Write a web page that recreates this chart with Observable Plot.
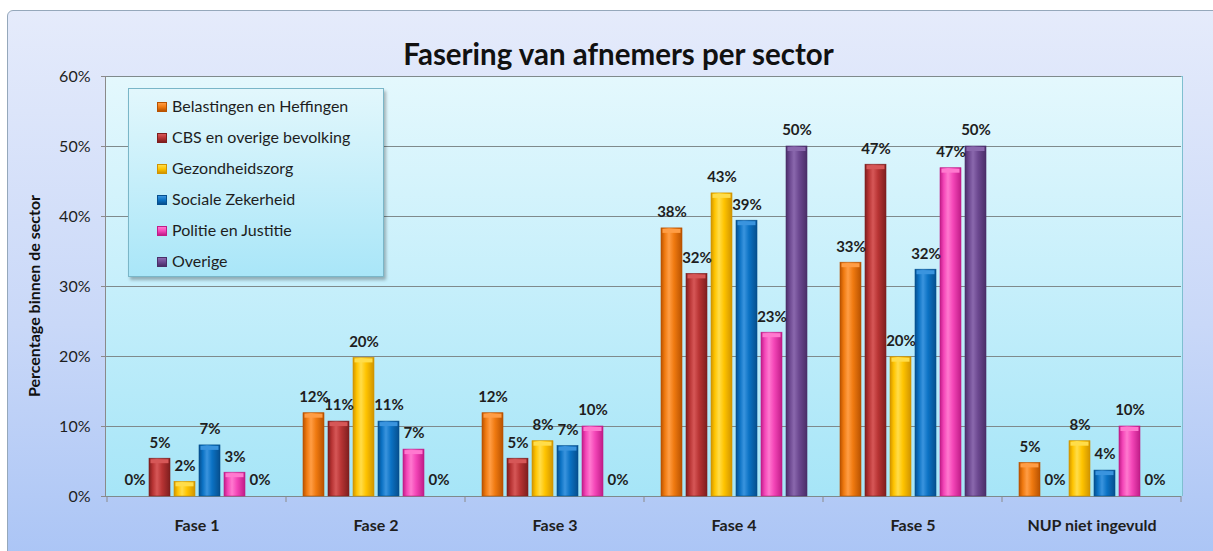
<!DOCTYPE html>
<html>
<head>
<meta charset="utf-8">
<script src="https://cdn.jsdelivr.net/npm/d3@7"></script>
<script src="https://cdn.jsdelivr.net/npm/@observablehq/plot@0.6"></script>
<style>
  html, body { margin: 0; padding: 0; background: #fff; overflow: hidden; }
  #wrap { position: relative; width: 1213px; height: 551px; overflow: hidden; font-family: Lato, "Open Sans", sans-serif; }
  #chartbg { position: absolute; left: 7px; top: 10px; width: 1230px; height: 570px; border: 1px solid #95a8bb; border-radius: 6px;
    background: linear-gradient(to bottom, #e5ebfb 0%, #c9d8f8 55%, #a8c3f5 100%); }
  #plotbg { position: absolute; box-sizing: border-box; border-top: 1px solid #7fbfd0; border-right: 1px solid #7fbfd0;
    border-left: 1px solid #8a8a8a; background: linear-gradient(to bottom, #e4f8fd 0%, #c6effb 50%, #a6e5f7 100%); }
  #title { position: absolute; left: 12px; width: 1213px; top: 37px; line-height: 34px; text-align: center; font-size: 29.5px; font-weight: bold; color: #111; }
  #ytitle { position: absolute; left: 33px; top: 296px; transform: translate(-50%, -50%) rotate(-90deg); white-space: nowrap;
    font-size: 16px; font-weight: bold; color: #111; }
  #legend { position: absolute; left: 128px; top: 88px; width: 256px; height: 189px; box-sizing: border-box;
    border: 1px solid #7ab6c8; background: linear-gradient(to bottom, #e2f7fc 0%, #a9e6f8 100%);
    box-shadow: 2px 3px 3px rgba(0,0,0,0.28); }
  .li { position: absolute; left: 28px; height: 20px; line-height: 20px; font-size: 16px; color: #1e1e1e; white-space: nowrap; }
  .sw { display: inline-block; width: 10px; height: 10px; margin-right: 5px; vertical-align: 0px; box-sizing: border-box; }
  #plot { position: absolute; left: 0; top: 0; }
  #plot svg { overflow: visible; }
</style>
</head>
<body>
<div id="wrap">
  <div id="chartbg"></div>
  <div id="plotbg"></div>
  <div id="plot"></div>
  <div id="title"></div>
  <div id="ytitle"></div>
  <div id="legend"></div>
</div>
<script>
// ---- data ----
const title = "Fasering van afnemers per sector";
const yLabel = "Percentage binnen de sector";
const phases = ["Fase 1", "Fase 2", "Fase 3", "Fase 4", "Fase 5", "NUP niet ingevuld"];
const sectors = ["Belastingen en Heffingen", "CBS en overige bevolking", "Gezondheidszorg", "Sociale Zekerheid", "Politie en Justitie", "Overige"];
const belastingen = [0, 11.9, 11.9, 38.3, 33.4, 4.8];
const cbs = [5.4, 10.7, 5.4, 31.8, 47.4, 0];
const gezondheid = [2.1, 19.8, 7.9, 43.3, 19.9, 7.9];
const sociale = [7.3, 10.7, 7.2, 39.4, 32.4, 3.7];
const politie = [3.4, 6.7, 10.0, 23.4, 46.9, 10.0];
const overige = [0, 0, 0, 50.0, 50.0, 0];
const yTicks = [0, 10, 20, 30, 40, 50, 60];
const colors = ["#f07a10", "#b83434", "#ffc400", "#0b72c4", "#f446b8", "#6c4890"];
const darks  = ["#b85200", "#7e1e1e", "#d09400", "#064f8e", "#c01c88", "#4a2e68"];
const lights = ["#ff9d45", "#d65757", "#ffdd4a", "#3a94de", "#ff79cf", "#8a68ad"];

const series = [belastingen, cbs, gezondheid, sociale, politie, overige];
const data = [];
phases.forEach((p, i) => sectors.forEach((s, j) => data.push({phase: p, sector: s, idx: j, value: series[j][i]})));

// ---- layout ----
const W = 1213, H = 551;
const mL = 105, mR = 31, mT = 76, mB = 55;

document.getElementById("title").textContent = title;
document.getElementById("ytitle").textContent = yLabel;
const pb = document.getElementById("plotbg");
pb.style.left = mL + "px"; pb.style.top = mT + "px";
pb.style.width = (W - mL - mR + 1) + "px"; pb.style.height = (H - mT - mB) + "px";

const leg = document.getElementById("legend");
sectors.forEach((s, j) => {
  const d = document.createElement("div");
  d.className = "li";
  d.style.top = (7 + j * 31) + "px";
  d.innerHTML = `<span class="sw" style="background:linear-gradient(to bottom, ${lights[j]}, ${colors[j]} 50%, ${darks[j]}); border:1px solid ${darks[j]}"></span>`;
  d.appendChild(document.createTextNode(s));
  leg.appendChild(d);
});

const fill = d => `url(#bar${d.idx})`;

const plot = Plot.plot({
  width: W, height: H,
  marginLeft: mL, marginRight: mR, marginTop: mT, marginBottom: mB,
  style: {background: "transparent", fontFamily: "Lato, 'Open Sans', sans-serif", fontSize: "16px", color: "#1e1e1e"},
  fx: {domain: phases, padding: 0, label: null},
  x: {domain: sectors, paddingInner: 0.18, paddingOuter: 0.58, axis: null},
  y: {domain: [0, 60], label: null},
  marks: [
    Plot.gridY(yTicks, {stroke: "#7f8a8c", strokeOpacity: 1}),
    Plot.axisY({ticks: yTicks, tickFormat: d => d + "%", tickSize: 6, tickPadding: 11, stroke: "#8a8a8a", label: null, fontSize: 16}),
    Plot.axisFx({anchor: "bottom", tickSize: 0, tickPadding: 23, label: null, fontSize: 16, fontWeight: "bold"}),
    Plot.barY(data, {fx: "phase", x: "sector", y: "value", fill: fill, stroke: d => darks[d.idx], strokeWidth: 0.6}),
    Plot.tickY(data.filter(d => d.value > 0), {fx: "phase", x: "sector", y: "value", stroke: d => lights[d.idx], strokeWidth: 4, dy: 2.5, inset: 1.5}),
    Plot.text(data, {fx: "phase", x: "sector", y: "value", text: d => Math.round(d.value) + "%", dy: -16, fontSize: 15, fontWeight: "bold", fill: "#1e1e1e", lineAnchor: "middle"})
  ]
});

// gradients for cylinder-look bars
const svg = d3.select(plot);
const defs = svg.insert("defs", ":first-child");
colors.forEach((c, j) => {
  const g = defs.append("linearGradient").attr("id", "bar" + j).attr("x1", "0").attr("x2", "1").attr("y1", "0").attr("y2", "0");
  [[0, darks[j]], [0.18, colors[j]], [0.38, lights[j]], [0.62, colors[j]], [1, darks[j]]]
    .forEach(([o, col]) => g.append("stop").attr("offset", o).attr("stop-color", col));
});

// category separator ticks below the baseline, from the library's scales
const fx = plot.scale("fx"), y = plot.scale("y");
const bounds = phases.map(p => fx.apply(p)).concat([fx.apply(phases[phases.length - 1]) + fx.bandwidth]);
svg.append("g").attr("stroke", "#8a8a8a").selectAll("line").data(bounds).join("line")
  .attr("x1", d => d).attr("x2", d => d).attr("y1", y.apply(0)).attr("y2", y.apply(0) + 6);

document.getElementById("plot").appendChild(plot);
</script>
</body>
</html>
